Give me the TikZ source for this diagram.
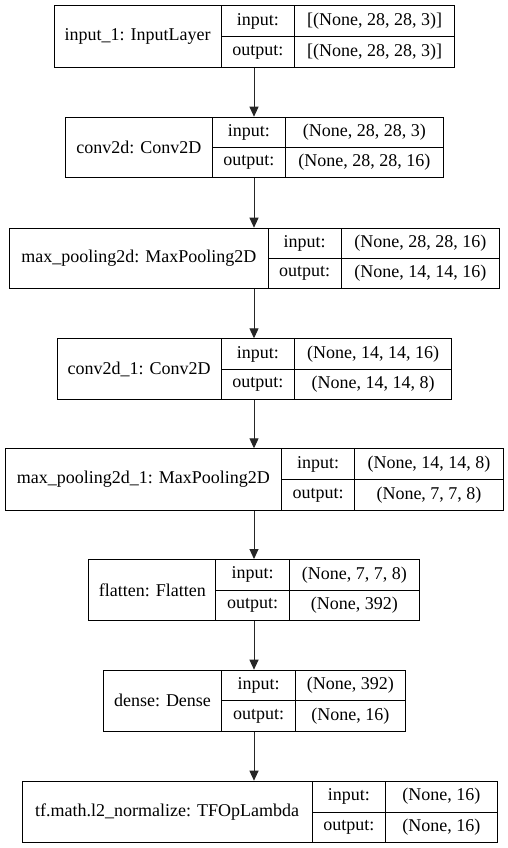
\documentclass[tikz,border=0pt]{standalone}
\usepackage{fontspec}
\setmainfont{Liberation Serif}
\usetikzlibrary{arrows.meta}
\tikzset{
  cell/.style={draw=black, line width=1pt, inner sep=0pt, anchor=north west,
    font=\fontsize{18}{20}\selectfont, text=black},
  arr/.style={draw=black!85, line width=1pt, -{Triangle[length=10pt,width=9pt]}},
}
\newcommand\mylayer[9]{\def\Lid{#1}\def\La{#2}\def\Lb{#3}\def\Lc{#4}\def\Ld{#5}\def\Lt{#6}\def\Lbt{#7}\def\Lname{#8}\def\Lin{#9}\mylayerfinish}
\newcommand\mylayerfinish[1]{%
  \pgfmathsetmacro\Lh{\Lbt-\Lt}%
  \pgfmathsetmacro\Lhh{\Lh/2}%
  \pgfmathsetmacro\Lm{\Lt+\Lhh}%
  \pgfmathsetmacro\Wa{\Lb-\La}%
  \pgfmathsetmacro\Wb{\Lc-\Lb}%
  \pgfmathsetmacro\Wc{\Ld-\Lc}%
  \node[cell, minimum width=\Wa pt, minimum height=\Lh pt] (\Lid-name) at (\La,\Lt) {\Lname};%
  \node[cell, minimum width=\Wb pt, minimum height=\Lhh pt] (\Lid-inlab) at (\Lb,\Lt) {input:};%
  \node[cell, minimum width=\Wb pt, minimum height=\Lhh pt] (\Lid-outlab) at (\Lb,\Lm) {output:};%
  \node[cell, minimum width=\Wc pt, minimum height=\Lhh pt] (\Lid-in) at (\Lc,\Lt) {\Lin};%
  \node[cell, minimum width=\Wc pt, minimum height=\Lhh pt] (\Lid-out) at (\Lc,\Lm) {#1};%
}
\begin{document}
\begin{tikzpicture}[x=1pt,y=-1pt]
\useasboundingbox[fill=white] (0,0) rectangle (508,848);
\coordinate (axis) at (254,0);
\mylayer{l1}{53.7}{220.7}{294}{454.3}{5.3}{67.3}{input\_1: InputLayer}{[(None, 28, 28, 3)]}{[(None, 28, 28, 3)]}
\mylayer{l2}{65}{211.7}{285}{442.7}{116.7}{177.3}{conv2d: Conv2D}{(None, 28, 28, 3)}{(None, 28, 28, 16)}
\mylayer{l3}{9}{267.7}{340.7}{499}{227.7}{288}{max\_pooling2d: MaxPooling2D}{(None, 28, 28, 16)}{(None, 14, 14, 16)}
\mylayer{l4}{56.7}{220.7}{294}{451.3}{338.3}{399}{conv2d\_1: Conv2D}{(None, 14, 14, 16)}{(None, 14, 14, 8)}
\mylayer{l5}{4.7}{281}{354.3}{502.7}{448.3}{509.7}{max\_pooling2d\_1: MaxPooling2D}{(None, 14, 14, 8)}{(None, 7, 7, 8)}
\mylayer{l6}{88.3}{215.3}{288.7}{419}{559}{620.3}{flatten: Flatten}{(None, 7, 7, 8)}{(None, 392)}
\mylayer{l7}{102.7}{221.3}{294.7}{405}{669.7}{731}{dense: Dense}{(None, 392)}{(None, 16)}
\mylayer{l8}{21.7}{311.7}{385}{496.7}{780.7}{842.3}{tf.math.l2\_normalize: TFOpLambda}{(None, 16)}{(None, 16)}
\draw[arr] (l1-name.south -| axis) -- (l2-name.north -| axis);
\draw[arr] (l2-name.south -| axis) -- (l3-name.north -| axis);
\draw[arr] (l3-name.south -| axis) -- (l4-name.north -| axis);
\draw[arr] (l4-name.south -| axis) -- (l5-name.north -| axis);
\draw[arr] (l5-name.south -| axis) -- (l6-name.north -| axis);
\draw[arr] (l6-name.south -| axis) -- (l7-name.north -| axis);
\draw[arr] (l7-name.south -| axis) -- (l8-name.north -| axis);
\end{tikzpicture}
\end{document}
